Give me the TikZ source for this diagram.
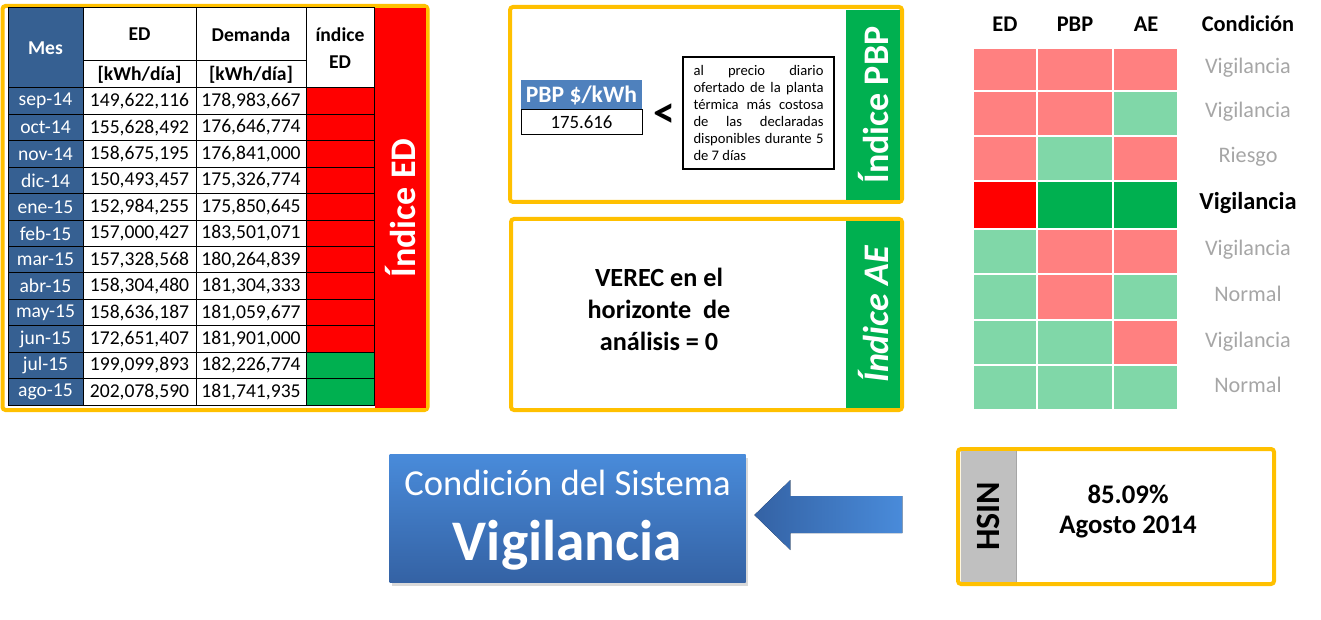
\documentclass[tikz,border=0pt]{standalone}
\usepackage{fontspec}
\setmainfont{Carlito}
\usetikzlibrary{shadows}
\definecolor{naranja}{HTML}{FFC000}
\definecolor{azulmes}{HTML}{366092}
\definecolor{azulpbp}{HTML}{4F81BD}
\definecolor{rojo}{HTML}{FF0000}
\definecolor{verde}{HTML}{00B050}
\definecolor{rclaro}{HTML}{FF8080}
\definecolor{vclaro}{HTML}{80D7A8}
\definecolor{gristxt}{HTML}{A6A6A6}
\definecolor{grisbar}{HTML}{C0C0C0}
\definecolor{azulsup}{RGB}{73,139,218}
\definecolor{azulinf}{RGB}{52,98,164}
\newcommand{\fcond}{\fontsize{11.1}{13}\selectfont}
\newcommand{\fcondB}{\bfseries\fontsize{12.2}{14}\selectfont}

\begin{document}
\begin{tikzpicture}[x=.5pt,y=-.5pt,
  marco/.style={draw=naranja,line width=2pt,rounded corners=1.5pt},
  celda/.style={draw=black,line width=.5pt,inner sep=0pt,minimum height=13.21pt,
    font=\fontsize{9.8}{11}\selectfont},
  mescelda/.style={celda,fill=azulmes,text=white,minimum width=37.5pt},
  edcelda/.style={celda,minimum width=56.5pt},
  demcelda/.style={celda,minimum width=55pt},
  idxcelda/.style={celda,minimum width=34pt},
  negrita/.style={font=\bfseries\fontsize{9.8}{13.5}\selectfont},
  barra/.style={rotate=90,text=white,inner sep=0pt,font=\bfseries\fontsize{18}{20}\selectfont},
  cab/.style={font=\bfseries\fontsize{11.2}{13}\selectfont},
  cuadro/.style={draw=white,line width=.6pt}]
\useasboundingbox (0,0) rectangle (1321,620);

% tabla del indice ED
\node[marco,minimum width=212.5pt,minimum height=202pt] (marcoED) at (215,208) {};
\node[barra,fill=rojo,minimum width=200pt,minimum height=25.25pt] (barED) at (400.25,208) {Índice ED};
\node[mescelda,negrita,minimum height=40pt] (hMes) at (45.5,48) {Mes};
\node[edcelda,negrita,minimum height=26.5pt] (hED) at (139.5,34.5) {ED};
\node[edcelda,negrita,minimum height=13.5pt] (uED) at (139.5,74.5) {[kWh/día]};
\node[demcelda,negrita,minimum height=26.5pt] (hDem) at (251,34.5) {Demanda};
\node[demcelda,negrita,minimum height=13.5pt] (uDem) at (251,74.5) {[kWh/día]};
\node[idxcelda,negrita,minimum height=40pt,align=center] (hIdx) at (340,48) {índice\\ED};
\foreach \mes/\ed/\dem/\ind [count=\i] in {
  sep-14/{149,622,116}/{178,983,667}/rojo, oct-14/{155,628,492}/{176,646,774}/rojo,
  nov-14/{158,675,195}/{176,841,000}/rojo, dic-14/{150,493,457}/{175,326,774}/rojo,
  ene-15/{152,984,255}/{175,850,645}/rojo, feb-15/{157,000,427}/{183,501,071}/rojo,
  mar-15/{157,328,568}/{180,264,839}/rojo, abr-15/{158,304,480}/{181,304,333}/rojo,
  may-15/{158,636,187}/{181,059,677}/rojo, jun-15/{172,651,407}/{181,901,000}/rojo,
  jul-15/{199,099,893}/{182,226,774}/verde, ago-15/{202,078,590}/{181,741,935}/verde}{
  \node[mescelda] (mes\i) at (45.5,{88+(\i-.5)*26.42}) {\mes};
  \node[edcelda] (ed\i) at (139.5,{88+(\i-.5)*26.42}) {\ed};
  \node[demcelda] (dem\i) at (251,{88+(\i-.5)*26.42}) {\dem};
  \node[idxcelda,fill=\ind] (ind\i) at (340,{88+(\i-.5)*26.42}) {};
}

% indice PBP
\node[marco,minimum width=196pt,minimum height=97.5pt] (marcoPBP) at (706,104.5) {};
\node[barra,fill=verde,minimum width=95pt,minimum height=27pt] (barPBP) at (873,105) {Índice PBP};
\node[fill=azulpbp,text=white,inner sep=0pt,minimum width=60.5pt,minimum height=15pt,
  font=\bfseries\fontsize{11.8}{13}\selectfont] (pbpTit) at (581.5,95) {PBP \$/kWh};
\node[draw,line width=.5pt,inner sep=0pt,minimum width=60.5pt,minimum height=12.5pt,
  font=\fontsize{9.4}{11}\selectfont] (pbpVal) at (581.5,122.5) {175.616};
\node[font=\bfseries\fontsize{22}{24}\selectfont] (menor) at (664,116) {<};
\node[draw,line width=1pt,inner sep=0pt,minimum width=75.5pt,minimum height=56pt,
  text width=65pt,align=justify,font=\fontsize{7.3}{8.45}\selectfont] (regla) at (758.5,113)
  {al precio diario\linebreak ofertado de la planta\linebreak térmica más costosa\linebreak
   de las declaradas\linebreak disponibles durante 5\linebreak de 7 días};

% indice AE
\node[marco,minimum width=195.5pt,minimum height=95.5pt] (marcoAE) at (706.5,314.5) {};
\node[barra,fill=verde,font=\bfseries\itshape\fontsize{18}{20}\selectfont,
  minimum width=93.5pt,minimum height=27pt] (barAE) at (873,314.5) {Índice AE};
\node[align=center,font=\bfseries\fontsize{13.1}{16}\selectfont] (verec) at (659,309)
  {VEREC en el\\horizonte\ \ de\\análisis = 0};

% matriz de condiciones
\node[cab] (mED) at (1005,24) {ED};
\node[cab] (mPBP) at (1075,24) {PBP};
\node[cab] (mAE) at (1146,24) {AE};
\node[cab] (mCond) at (1248,24) {Condición};
\foreach \ya/\yb/\ced/\cpbp/\cae/\cond/\fnt/\tc [count=\k] in {
  48/91/rclaro/rclaro/rclaro/Vigilancia/\fcond/gristxt,
  91/136/rclaro/rclaro/vclaro/Vigilancia/\fcond/gristxt,
  136/181/rclaro/vclaro/rclaro/Riesgo/\fcond/gristxt,
  181/229/rojo/verde/verde/Vigilancia/\fcondB/black,
  229/274/vclaro/rclaro/rclaro/Vigilancia/\fcond/gristxt,
  274/320/vclaro/rclaro/vclaro/Normal/\fcond/gristxt,
  320/365/vclaro/vclaro/rclaro/Vigilancia/\fcond/gristxt,
  365/410/vclaro/vclaro/vclaro/Normal/\fcond/gristxt}{
  \path[cuadro,fill=\ced] (973,\ya) rectangle (1037,\yb);
  \path[cuadro,fill=\cpbp] (1037,\ya) rectangle (1113,\yb);
  \path[cuadro,fill=\cae] (1113,\ya) rectangle (1178,\yb);
  \node[anchor=base,text=\tc,font=\fnt] (cond\k) at (1248,{(\ya+\yb)/2+4.5}) {\cond};
}

% resultado
\node[minimum width=178pt,minimum height=64pt,top color=azulsup,bottom color=azulinf,
  drop shadow={opacity=.3,shadow xshift=1pt,shadow yshift=-1.5pt}] (sistema) at (567.5,518.5) {};
\node[anchor=base,text=white,font=\fontsize{18.3}{20}\selectfont] (sisTit) at (567.5,495) {Condición del Sistema};
\node[anchor=base,text=white,font=\bfseries\fontsize{28.7}{30}\selectfont] (sisVal) at (567.5,560) {Vigilancia};
\coordinate (punta) at ([xshift=4.25pt,yshift=1.75pt]sistema.east);
\fill[left color=azulinf,right color=azulsup] (punta) -- ++(36,-35) -- ++(0,16) -- ++(112,0)
  -- ++(0,37) -- ++(-112,0) -- ++(0,17) -- cycle;

% HSIN
\node[marco,minimum width=158pt,minimum height=67.5pt] (marcoHSIN) at (1116,516.5) {};
\node[rotate=90,fill=grisbar,inner sep=0pt,minimum width=65.5pt,minimum height=27.5pt,
  font=\bfseries\fontsize{17}{19}\selectfont] (barHSIN) at (988.5,516.5) {HSIN};
\draw[gristxt,line width=.5pt] (barHSIN.south west) -- (barHSIN.south east);
\node[anchor=base,font=\bfseries\fontsize{13.4}{15}\selectfont] (hsinVal) at (1128,503) {85.09\%};
\node[anchor=base,font=\bfseries\fontsize{13.4}{15}\selectfont] (hsinMes) at (1128,533) {Agosto 2014};
\end{tikzpicture}
\end{document}
